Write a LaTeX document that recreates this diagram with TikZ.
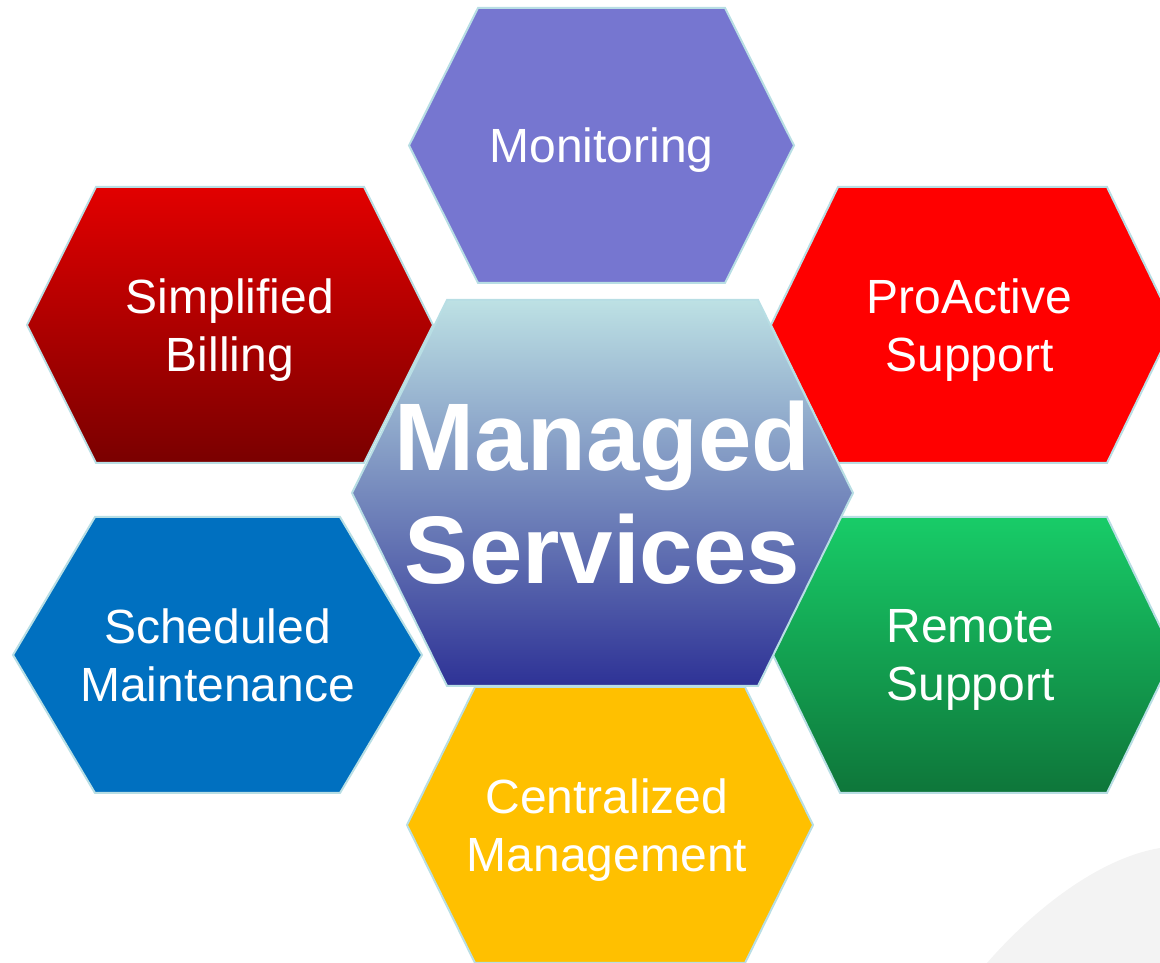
\documentclass[tikz,border=0pt]{standalone}
\usepackage{fontspec}
\setmainfont{Liberation Sans}
\usepackage{xcolor}
\usetikzlibrary{positioning}

\definecolor{hexedge}{RGB}{184,222,228}
\definecolor{monviolet}{RGB}{118,118,208}
\definecolor{billtop}{RGB}{226,0,0}
\definecolor{billmid}{RGB}{196,0,0}
\definecolor{billbottom}{RGB}{122,0,0}
\definecolor{proactred}{RGB}{255,0,0}
\definecolor{schedblue}{RGB}{0,112,192}
\definecolor{remotetop}{RGB}{24,204,104}
\definecolor{remotebottom}{RGB}{14,118,58}
\definecolor{centralgold}{RGB}{255,192,0}
\definecolor{mstop}{RGB}{189,225,228}
\definecolor{msmid}{RGB}{160,190,212}
\definecolor{msbottom}{RGB}{46,50,150}
\definecolor{swooshgray}{RGB}{243,243,243}

\begin{document}
\begin{tikzpicture}[x=1pt,y=1pt,
      hex_line/.style={
         draw=hexedge,
         line width=2pt,
         line join=miter},
      fill_mon/.style={fill=monviolet},
      fill_bill/.style={top color=billtop, middle color=billmid, bottom color=billbottom},
      fill_pro/.style={fill=proactred},
      fill_sched/.style={fill=schedblue},
      fill_remote/.style={top color=remotetop, bottom color=remotebottom},
      fill_central/.style={fill=centralgold},
      fill_ms/.style={top color=mstop, middle color=msmid, bottom color=msbottom},
      label_small/.style={
         text=white,
         align=center,
         inner sep=0pt,
         text depth=0pt,
         font=\fontsize{48}{58}\selectfont},
      label_big/.style={
         text=white,
         align=center,
         inner sep=0pt,
         font=\fontsize{96}{113}\selectfont\bfseries}
]
      \useasboundingbox (0,0) rectangle (1160,963);
      \clip (0,0) rectangle (1160,963);

      %background swoosh
      \fill[swooshgray] (987,0) .. controls (1035,55) and (1100,105) .. (1160,115) -- (1160,0) -- cycle;

      %hexagons, centre one last so it lies on top
    \foreach \n/\x/\y/\w/\h/\d in {% name/centre x/centre y/half top width/half height/tip
      mon/601.5/817.5/123.5/137.5/69,
      bill/230/638/134/138/69,
      pro/972.5/638/134.5/138/67,
      sched/217.5/308/122.5/138/82,
      remote/973.5/308/133.5/138/67,
      central/610/138/135/138/68,
      ms/602.5/470/155.5/193/95}
    {
      \coordinate (c_\n) at (\x,\y);
      \draw [hex_line,fill_\n] (\x-\w,\y+\h) -- (\x+\w,\y+\h) -- (\x+\w+\d,\y)
            -- (\x+\w,\y-\h) -- (\x-\w,\y-\h) -- (\x-\w-\d,\y) -- cycle;
    }

      %labels
      \node[label_small] (monitoring) at (c_mon) {Monitoring};
      \node[label_small] (billing) at (c_bill) {Simplified\\Billing};
      \node[label_small,xshift=-3pt] (proactive) at (c_pro) {ProActive\\Support};
      \node[label_small] (scheduled) at (c_sched) {Scheduled\\Maintenance};
      \node[label_small,xshift=-3pt] (remote) at (c_remote) {Remote\\Support};
      \node[label_small,xshift=-3pt] (centralized) at (c_central) {Centralized\\Management};
      \node[label_big] (managed) at (c_ms) {Managed\\Services};
\end{tikzpicture}
\end{document}
